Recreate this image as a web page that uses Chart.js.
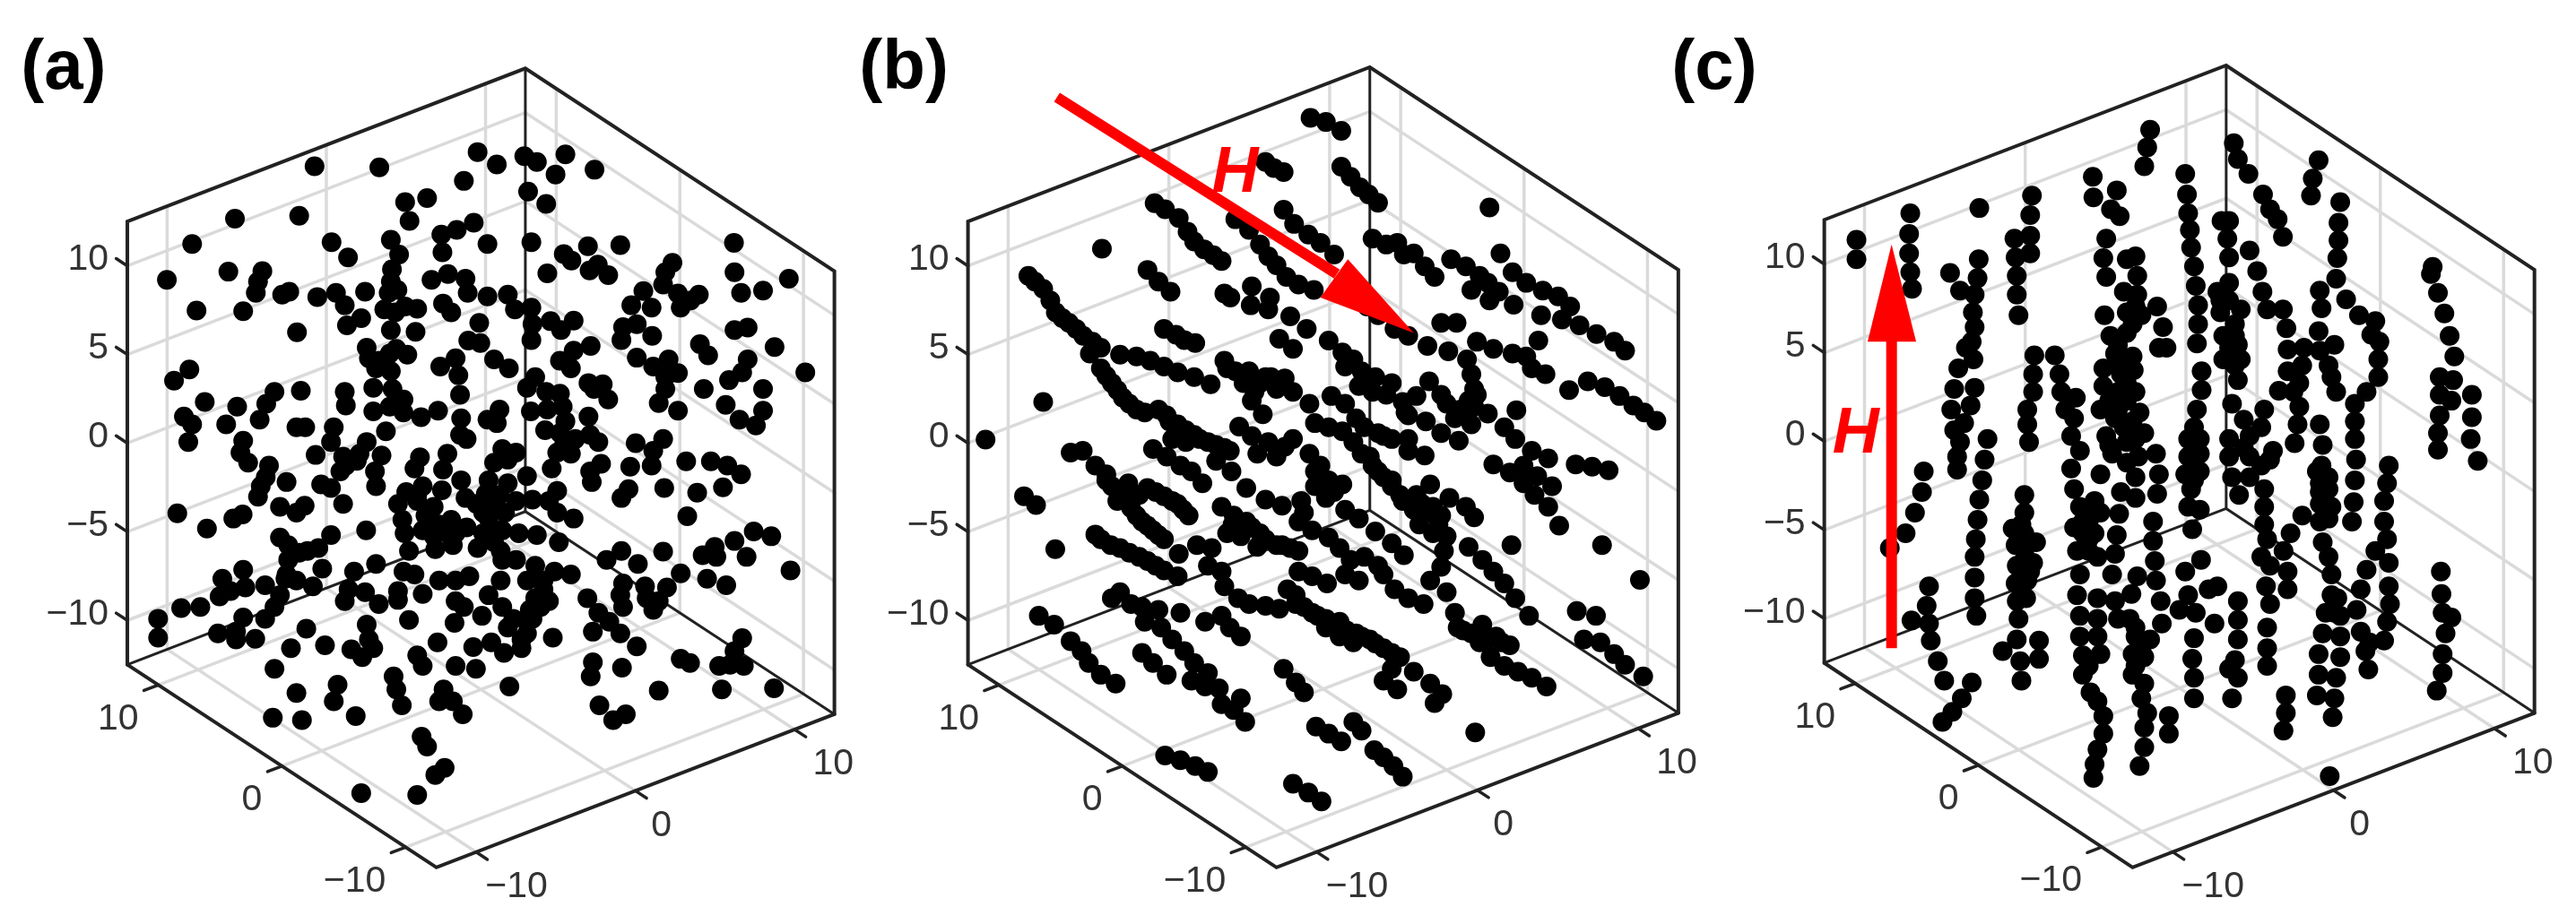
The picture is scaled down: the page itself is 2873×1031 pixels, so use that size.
<!DOCTYPE html>
<html>
<head>
<meta charset="utf-8">
<title>Scatter (a) (b) (c)</title>
<script src="https://cdn.jsdelivr.net/npm/chart.js@4/dist/chart.umd.js"></script>
<style>
  html, body { margin: 0; padding: 0; background: #fff; }
  body { width: 2873px; height: 1031px; position: relative; overflow: hidden; }
  canvas { position: absolute; top: 0; }
</style>
</head>
<body>
<canvas id="chart-a" style="left:0" width="960" height="1031"></canvas>
<canvas id="chart-b" style="left:940px" width="960" height="1031"></canvas>
<canvas id="chart-c" style="left:1850px" width="1023" height="1031"></canvas>
<script>
// axis ticks
const horizTicks = [-10, 0, 10];
const vertTicks = [10, 5, 0, -5, -10];
const axisLimit = 12.5;

// points, in each panel's view coordinates (0-1568)
const pointsA = [[573,282],[691,284],[870,258],[905,279],[955,265],[978,275],[1030,262],[1012,296],[1083,288],[845,307],[962,325],[995,346],[778,336],[738,343],[746,375],[428,371],[545,366],[350,414],[604,411],[634,437],[712,407],[727,432],[714,457],[804,398],[832,390],[863,378],[806,428],[888,414],[968,411],[1027,431],[1041,442],[1071,418],[1130,416],[1337,412],[304,475],[416,461],[478,460],[470,478],[466,497],[1074,459],[1089,449],[1108,467],[997,464],[1338,462],[1437,473],[1225,446],[1212,462],[1208,483],[1172,494],[1235,498],[1350,497],[1390,493],[358,527],[443,528],[514,500],[527,495],[578,504],[612,497],[628,518],[665,495],[712,478],[708,497],[724,492],[738,520],[760,524],[786,475],[816,465],[848,473],[852,497],[807,515],[822,530],[888,503],[925,500],[938,525],[968,522],[1150,518],[1187,522],[1240,522],[1258,510],[1273,500],[700,525],[720,530],[712,560],[658,540],[632,552],[541,564],[757,563],[873,548],[1003,545],[1022,560],[1045,544],[970,550],[968,577],[1135,555],[1160,550],[1132,577],[1188,570],[1338,560],[1362,556],[1411,589],[1275,584],[1290,603],[1076,587],[853,578],[875,582],[668,590],[672,608],[690,612],[710,600],[722,592],[742,602],[1045,595],[1020,612],[1040,625],[1160,607],[1190,622],[1218,610],[1235,633],[1212,640],[1362,610],[1352,632],[1328,645],[1467,632],[345,627],[317,646],[830,608],[802,622],[900,610],[927,625],[685,625],[712,630],[835,637],[975,640],[960,658],[1072,650],[1098,652],[1082,660],[1108,678],[1282,660],[1212,660],[1390,660],[680,658],[715,660],[548,663],[628,665],[630,688],[500,665],[485,685],[473,712],[373,682],[432,690],[838,670],[735,678],[995,665],[1020,668],[1025,690],[1200,684],[1235,697],[1322,687],[680,698],[710,690],[735,700],[798,697],[767,708],[840,710],[910,695],[888,712],[905,718],[967,698],[997,695],[1030,715],[1072,707],[1347,712],[1390,697],[1377,722],[335,707],[350,720],[412,720],[540,725],[556,725],[703,732],[838,738],[993,730],[1020,735],[608,725],[603,750],[343,750],[443,748],[438,768],[850,745],[1048,745],[1075,738],[1090,750],[1025,760],[1158,752],[1208,745],[1190,765],[668,750],[655,770],[695,773],[575,772],[815,770],[915,762],[940,768],[1015,768],[1040,770],[765,776],[625,775],[630,790],[650,782],[900,785],[1250,783],[1295,783],[1325,790],[1350,805],[1095,787],[1075,800],[1148,792],[1187,790],[452,785],[490,790],[484,810],[620,800],[683,800],[755,795],[807,797],[890,815],[925,780],[1005,795],[1078,818],[960,808],[1210,828],[1317,827],[1270,836],[475,825],[470,843],[522,818],[585,822],[603,828],[625,855],[685,825],[740,835],[770,825],[805,832],[840,815],[925,820],[848,845],[885,838],[1015,833],[1145,830],[1132,845],[725,855],[760,850],[868,855],[900,860],[940,850],[970,848],[1000,850],[510,860],[555,858],[540,870],[323,871],[442,873],[425,880],[1045,880],[1252,876],[377,897],[733,882],[775,875],[822,882],[800,890],[850,895],[890,880],[920,870],[1015,870],[667,900],[737,905],[770,900],[815,905],[880,905],[915,900],[945,905],[978,908],[1373,902],[1405,910],[1338,918],[510,912],[603,908],[525,925],[580,930],[745,935],[793,932],[825,925],[870,930],[912,935],[1018,920],[1208,936],[1132,935],[1280,942],[1302,928],[1360,945],[1305,945],[545,938],[560,935],[525,950],[915,950],[940,950],[1105,950],[1162,957],[685,957],[587,965],[975,960],[1440,968],[443,967],[522,975],[645,970],[735,970],[1010,970],[1040,975],[1240,973],[755,975],[405,982],[1288,982],[520,982],[800,985],[830,985],[855,978],[912,985],[725,1003],[960,985],[990,985],[1135,990],[1175,995],[1323,993],[447,997],[483,993],[540,985],[570,995],[635,1000],[665,1005],[770,1008],[990,1000],[1215,997],[400,1012],[420,1003],[510,1010],[628,1020],[690,1025],[725,1018],[830,1020],[890,1010],[975,1015],[1070,1015],[1130,1010],[1178,1015],[1200,1020],[330,1032],[365,1030],[500,1030],[845,1030],[915,1030],[965,1035],[1090,1040],[1135,1030],[1190,1035],[288,1050],[443,1048],[483,1050],[745,1052],[878,1045],[935,1050],[960,1055],[828,1057],[668,1060],[1110,1055],[558,1067],[397,1075],[430,1072],[1080,1072],[1130,1075],[288,1082],[430,1085],[465,1084],[672,1085],[925,1065],[1007,1082],[797,1090],[895,1090],[950,1085],[960,1075],[1352,1083],[1160,1097],[592,1095],[530,1100],[640,1102],[680,1100],[862,1098],[918,1108],[950,1100],[660,1115],[760,1112],[1338,1105],[1240,1118],[1257,1125],[770,1130],[830,1130],[867,1135],[1080,1124],[1133,1133],[1310,1130],[1330,1128],[1355,1130],[500,1135],[1076,1148],[717,1148],[722,1170],[928,1165],[615,1162],[540,1176],[608,1190],[808,1170],[1200,1172],[1315,1170],[1410,1168],[732,1197],[800,1190],[825,1190],[843,1212],[1092,1197],[1140,1212],[1117,1222],[497,1218],[550,1222],[648,1215],[768,1250],[778,1267],[810,1303],[793,1315],[658,1346],[760,1349],[760,840],[790,860],[910,840],[880,870],[900,900],[830,905],[790,910],[900,920],[1000,1020],[985,1030],[970,1050]];

const pointsB = [[852,200],[880,207],[908,222],[770,275],[785,285],[803,292],[908,283],[925,300],[942,318],[958,330],[975,344],[1178,352],[803,356],[822,380],[848,398],[870,412],[895,432],[568,345],[587,355],[612,370],[628,393],[640,410],[658,423],[675,433],[690,443],[715,372],[740,390],[760,415],[775,435],[790,450],[808,470],[830,483],[858,492],[472,422],[965,405],[990,415],[1010,412],[1022,432],[1040,430],[1060,452],[1078,470],[1108,440],[1135,452],[1160,468],[1145,492],[1175,480],[1195,495],[1178,510],[1222,517],[1198,430],[1220,462],[1245,480],[1275,493],[1303,503],[1325,520],[1272,535],[1310,542],[1342,552],[1373,567],[1405,580],[1425,595],[338,468],[365,490],[378,510],[388,530],[412,548],[438,570],[555,458],[575,478],[597,495],[695,498],[706,505],[745,486],[778,505],[743,518],[775,525],[815,537],[845,558],[885,578],[910,598],[930,610],[955,520],[975,535],[1005,558],[1030,570],[1065,587],[1090,548],[1118,548],[1155,580],[1103,596],[1185,592],[1220,600],[1245,605],[1255,625],[1280,635],[1267,578],[585,558],[607,568],[622,577],[642,582],[795,575],[820,592],[470,590],[450,600],[505,602],[535,605],[560,612],[585,622],[610,632],[640,640],[670,652],[695,612],[715,630],[740,630],[770,640],[805,642],[915,622],[945,630],[970,640],[1000,650],[1137,610],[1145,635],[1150,660],[1140,680],[1068,647],[1090,670],[470,625],[490,650],[510,675],[535,695],[575,695],[730,650],[750,665],[790,660],[820,665],[850,685],[940,655],[965,665],[990,670],[1020,682],[1045,672],[1030,705],[1062,715],[1090,735],[1122,748],[1100,685],[1125,695],[1115,710],[1145,720],[1175,702],[1323,662],[1357,647],[1388,657],[1415,672],[1440,688],[1460,700],[1482,714],[1227,696],[1205,725],[1225,745],[1255,765],[1285,778],[365,682],[745,680],[765,703],[890,672],[915,685],[935,710],[860,718],[885,725],[910,732],[950,725],[975,735],[1000,745],[1030,745],[1060,773],[1030,765],[260,746],[595,715],[625,730],[650,745],[680,755],[705,765],[722,724],[745,740],[775,750],[805,758],[820,745],[850,770],[755,770],[790,775],[600,745],[625,750],[565,762],[590,775],[615,790],[635,800],[655,820],[708,800],[680,782],[930,750],[945,770],[965,790],[985,810],[415,768],[437,765],[460,790],[480,805],[490,825],[500,850],[520,820],[555,828],[585,842],[610,855],[630,875],[735,828],[770,848],[800,858],[835,850],[860,800],[885,815],[860,825],[910,822],[880,845],[1000,825],[1015,840],[1045,840],[1070,822],[1105,845],[1135,860],[1150,878],[1185,788],[1215,802],[1240,790],[1265,808],[1292,825],[1240,820],[1260,840],[1285,860],[1305,892],[1335,788],[1365,792],[1395,798],[330,842],[352,857],[525,862],[545,885],[565,900],[585,915],[690,860],[712,875],[735,885],[700,905],[725,910],[760,905],[755,928],[830,885],[855,900],[885,912],[915,865],[940,880],[1040,865],[1065,870],[1085,890],[1050,890],[1100,910],[970,902],[1000,922],[1022,942],[1140,928],[1165,950],[1185,970],[1205,990],[1225,1015],[1250,1045],[1095,935],[1090,962],[1070,985],[1218,925],[1383,925],[387,932],[460,907],[488,925],[522,938],[555,952],[585,968],[610,978],[612,940],[645,925],[672,930],[665,960],[690,970],[800,925],[830,935],[905,930],[925,950],[950,945],[975,960],[915,975],[940,985],[985,975],[1005,1000],[1030,1015],[1058,1025],[830,970],[855,978],[882,990],[1452,984],[695,995],[505,1005],[490,1015],[525,1025],[545,1030],[575,1035],[615,1040],[720,1015],[740,1025],[770,1028],[795,1033],[810,1000],[825,1025],[855,1040],[880,1050],[905,1055],[1100,1005],[1115,1040],[1120,1065],[1145,1075],[1165,1060],[1190,1080],[1215,1095],[1160,1090],[1337,1037],[1372,1045],[357,1045],[385,1060],[550,1055],[580,1065],[660,1055],[690,1045],[705,1065],[725,1080],[880,1065],[905,1080],[935,1075],[930,1090],[960,1085],[985,1100],[1015,1115],[1350,1085],[1380,1090],[1405,1110],[1425,1128],[1458,1148],[415,1088],[435,1105],[448,1125],[470,1145],[497,1160],[600,1085],[622,1105],[640,1125],[665,1142],[545,1108],[565,1125],[590,1145],[635,1155],[660,1165],[685,1168],[1000,1135],[985,1155],[1010,1170],[1180,1115],[1205,1130],[1230,1140],[1255,1150],[1282,1165],[1040,1140],[1070,1160],[1092,1178],[1078,1193],[803,1135],[825,1158],[840,1175],[725,1185],[690,1195],[712,1205],[733,1225],[1152,1243],[930,1225],[945,1240],[862,1233],[885,1245],[908,1258],[968,1273],[985,1285],[1003,1300],[1020,1318],[587,1282],[615,1290],[642,1300],[665,1310],[820,1330],[848,1345],[872,1360],[350,478],[400,540],[425,558],[455,580],[480,638],[500,662],[522,685],[550,700],[590,705],[610,720],[640,738],[665,750],[695,760],[480,815],[510,835],[540,840],[570,835],[600,850],[620,865],[535,875],[555,892],[575,908],[470,915],[505,930],[540,945],[570,960],[710,890],[745,895],[770,915],[790,925],[815,930],[840,1030],[865,1045],[890,1058],[918,1070],[945,1080],[970,1092],[1000,1108],[1130,1070],[1175,1085],[1200,1090],[985,740],[960,775],[975,800],[1000,815],[1020,850],[1055,855],[1075,860],[1090,875],[1075,905],[870,790],[875,830],[895,835],[840,870],[780,640],[760,650],[730,635],[700,625],[825,1010],[1025,700],[1150,690],[1130,700],[1155,670]];

const pointsC = [[840,220],[835,250],[830,282],[983,243],[990,270],[1008,295],[1128,272],[1118,303],[1115,332],[742,300],[743,335],[783,323],[900,295],[903,330],[905,362],[908,390],[910,420],[915,452],[918,485],[922,518],[922,550],[920,583],[1033,330],[1045,355],[1058,372],[1067,402],[1165,343],[1162,378],[1162,408],[1160,438],[1158,473],[430,362],[428,397],[428,430],[430,462],[433,490],[548,353],[638,332],[635,365],[635,400],[635,430],[608,405],[610,437],[612,468],[612,500],[615,535],[773,355],[788,367],[765,405],[760,438],[765,470],[338,407],[338,440],[547,440],[545,472],[498,463],[515,493],[540,500],[537,530],[540,555],[535,580],[525,590],[538,610],[512,625],[505,660],[540,658],[533,688],[500,695],[522,718],[505,730],[515,750],[510,775],[510,797],[962,375],[975,375],[972,405],[975,437],[1010,425],[1023,460],[800,440],[815,435],[818,468],[795,495],[818,500],[800,530],[825,535],[762,535],[852,520],[862,555],[855,590],[868,590],[772,570],[800,565],[975,480],[955,495],[975,510],[995,525],[960,530],[985,550],[965,570],[990,585],[965,610],[995,610],[990,645],[1032,495],[1040,525],[1067,525],[1073,557],[1130,493],[1133,523],[1128,562],[1075,593],[1103,590],[1155,585],[1175,508],[1197,535],[1225,545],[1218,568],[1232,580],[1230,610],[1230,640],[1210,665],[1130,595],[1145,620],[1150,640],[1158,665],[1075,630],[1100,620],[1095,650],[1060,663],[1085,665],[1095,690],[1092,720],[1087,752],[1190,685],[1190,715],[1190,745],[1192,780],[1190,815],[1188,852],[1185,885],[1323,453],[1320,465],[1332,497],[1343,532],[1352,570],[1360,605],[1335,640],[1358,645],[1335,670],[1355,680],[1335,705],[1332,735],[1332,763],[1390,670],[1390,708],[1388,745],[1400,782],[642,603],[677,603],[640,635],[685,635],[640,665],[688,665],[630,695],[695,695],[713,675],[630,720],[710,710],[633,750],[705,740],[720,765],[705,795],[760,625],[785,605],[810,605],[760,655],[790,635],[812,628],[785,665],[815,665],[755,695],[785,695],[822,700],[795,725],[765,740],[800,750],[830,735],[775,770],[820,775],[850,770],[755,805],[800,785],[815,810],[855,805],[790,835],[815,845],[852,838],[928,630],[928,662],[920,695],[915,725],[905,745],[925,745],[905,775],[925,770],[900,805],[925,800],[910,830],[905,860],[925,865],[912,898],[980,685],[1000,712],[975,745],[1010,740],[1035,695],[1030,725],[1050,765],[1010,775],[1030,790],[975,775],[980,810],[1010,810],[992,840],[1035,830],[1035,860],[1035,890],[1040,915],[1130,720],[1135,755],[1133,790],[1130,820],[1145,830],[1130,855],[1100,875],[1150,860],[1130,885],[1135,920],[1145,945],[1080,905],[1068,935],[1030,945],[1045,960],[1075,970],[1075,1000],[562,745],[557,780],[553,815],[548,848],[545,882],[542,915],[540,945],[540,980],[540,1015],[543,1045],[453,800],[450,835],[438,870],[422,905],[395,930],[625,840],[625,870],[605,897],[625,905],[610,925],[645,920],[625,935],[640,955],[612,960],[630,985],[610,990],[628,1015],[612,1020],[615,1050],[710,830],[720,860],[745,850],[755,870],[710,895],[735,885],[735,915],[715,935],[750,945],[780,940],[787,872],[783,908],[845,885],[845,918],[848,952],[850,985],[858,1020],[860,1058],[1248,790],[1245,820],[1240,850],[1240,885],[1245,915],[1225,935],[1248,955],[1248,995],[1250,1025],[1245,1055],[1240,1087],[1210,967],[1200,1000],[1193,1035],[1200,1072],[1208,1105],[1213,1136],[1337,970],[1338,1008],[1340,1040],[1355,1048],[1345,1075],[1340,1110],[1340,1142],[1330,1172],[720,975],[775,975],[818,978],[808,1008],[900,970],[927,950],[940,1000],[905,1010],[955,995],[918,1040],[890,1035],[950,1058],[915,1083],[912,1118],[915,1150],[915,1185],[990,1020],[990,1052],[990,1085],[985,1120],[990,1150],[975,1135],[980,1185],[1038,995],[1045,1025],[1040,1065],[1040,1100],[1040,1130],[1150,975],[1160,1015],[1140,1040],[1165,1045],[1135,1075],[1165,1080],[1128,1110],[1165,1115],[1128,1145],[1158,1150],[1125,1180],[1155,1185],[1152,1217],[1072,1180],[1072,1210],[1068,1240],[462,995],[458,1028],[432,1053],[462,1058],[465,1087],[477,1122],[488,1155],[535,1158],[518,1185],[502,1208],[485,1225],[588,1105],[612,1085],[650,1087],[650,1118],[618,1122],[620,1155],[715,1010],[750,1015],[780,1020],[720,1045],[750,1050],[785,1050],[805,1050],[720,1080],[750,1080],[815,1080],[840,1085],[725,1112],[755,1110],[810,1110],[830,1115],[725,1145],[810,1145],[830,1160],[738,1175],[825,1185],[750,1190],[760,1215],[835,1210],[830,1235],[760,1245],[830,1268],[750,1272],[745,1297],[822,1300],[743,1320],[872,1215],[872,1245],[1147,1317],[785,620],[800,650],[770,680],[800,680],[810,715],[780,710],[770,755],[815,745],[735,870],[725,885],[725,905],[745,905],[735,935],[625,950],[635,970],[620,1000],[615,925],[620,890],[960,510],[985,570],[975,590],[985,620],[815,520],[810,550],[785,585],[780,600],[1130,835],[1145,880],[1125,800],[1145,810],[1045,780],[1000,760],[915,760],[915,790],[915,815],[735,1130],[815,1130],[825,1100],[815,1065],[1150,1010],[1155,1040],[1215,1090]];

// field arrows (shaft, then head)
const arrowShaftB = [[390,165],[900,465]];
const arrowHeadB = [[1040,565],[920,440],[870,505]];
const arrowShaftC = [[398,1100],[398,570]];
const arrowHeadC = [[398,415],[357,580],[440,580]];

// box corners of each panel, in view coordinates
const panels = [
  { id: 'chart-a', title: '(a)', titleAt: [38, 118], points: pointsA, bottom: [795,1472], right: [1520,1212], left: [232,1128], height: 752 },
  { id: 'chart-b', title: '(b)', titleAt: [30, 118], points: pointsB, bottom: [790,1472], right: [1522,1210], left: [228,1128], height: 752,
    shaft: arrowShaftB, head: arrowHeadB, hAt: [672, 326] },
  { id: 'chart-c', title: '(c)', titleAt: [22, 118], points: pointsC, bottom: [810,1472], right: [1497,1210], left: [283,1125], height: 752,
    shaft: arrowShaftC, head: arrowHeadC, hAt: [297, 768] }
];

const gridColor = '#dadada';
const boxColor = '#222222';
const textColor = '#333333';

function lineSet(pts, color, width, order) {
  return {
    data: pts.map(p => ({ x: p[0], y: p[1] })),
    showLine: true, pointRadius: 0, borderColor: color, borderWidth: width,
    borderCapStyle: 'round', order: order
  };
}

function buildPanel(panel) {
  const L = axisLimit;
  // a runs bottom->right, b runs bottom->left, z goes up
  const project = (a, b, z) => {
    const fa = (a + L) / (2 * L), fb = (b + L) / (2 * L), fz = (z + L) / (2 * L);
    return [
      panel.bottom[0] + fa * (panel.right[0] - panel.bottom[0]) + fb * (panel.left[0] - panel.bottom[0]),
      panel.bottom[1] + fa * (panel.right[1] - panel.bottom[1]) + fb * (panel.left[1] - panel.bottom[1]) - fz * panel.height
    ];
  };

  const sets = [];
  sets.push({
    data: panel.points.map(p => ({ x: p[0], y: p[1] })),
    showLine: false, pointRadius: 11, pointBackgroundColor: '#000', pointBorderWidth: 0, order: 2
  });

  // grid on the two back walls and the floor
  horizTicks.forEach(t => {
    sets.push(lineSet([project(t, L, -L), project(t, L, L)], gridColor, 3.5, 6));
    sets.push(lineSet([project(L, t, -L), project(L, t, L)], gridColor, 3.5, 6));
    sets.push(lineSet([project(t, -L, -L), project(t, L, -L)], gridColor, 3.5, 6));
    sets.push(lineSet([project(-L, t, -L), project(L, t, -L)], gridColor, 3.5, 6));
  });
  vertTicks.forEach(t => {
    sets.push(lineSet([project(-L, L, t), project(L, L, t), project(L, -L, t)], gridColor, 3.5, 6));
  });

  // back edges of the box
  sets.push(lineSet([project(-L, L, -L), project(L, L, -L), project(L, -L, -L)], boxColor, 3, 5));
  sets.push(lineSet([project(L, L, -L), project(L, L, L)], boxColor, 3, 5));
  // outer frame
  sets.push(lineSet([project(-L, L, -L), project(-L, L, L), project(L, L, L), project(L, -L, L), project(L, -L, -L)], boxColor, 4, 4));
  sets.push(lineSet([project(-L, L, -L), project(-L, -L, -L), project(L, -L, -L)], boxColor, 4, 4));

  // tick marks
  const tickLen = 0.9;
  vertTicks.forEach(t => sets.push(lineSet([project(-L, L, t), project(-L, L + tickLen, t)], boxColor, 3.5, 4)));
  horizTicks.forEach(t => {
    sets.push(lineSet([project(-L, t, -L), project(-L - tickLen, t, -L)], boxColor, 3.5, 4));
    sets.push(lineSet([project(t, -L, -L), project(t, -L - tickLen, -L)], boxColor, 3.5, 4));
  });

  // red arrow goes over the points
  if (panel.shaft) {
    sets.push(Object.assign(lineSet(panel.shaft, '#ff0000', 12, 1), { borderCapStyle: 'butt' }));
    const closed = panel.head.concat([panel.head[0]]);
    sets.push(Object.assign(lineSet(closed, '#ff0000', 0, 0), { fill: 'shape', backgroundColor: '#ff0000' }));
  }

  const textPlugin = {
    id: 'panelText',
    afterDatasetsDraw(chart) {
      const ctx = chart.ctx;
      const sx = chart.scales.x, sy = chart.scales.y;
      const px = p => [sx.getPixelForValue(p[0]), sy.getPixelForValue(p[1])];
      const fmt = t => String(t).replace('-', '\u2212');
      ctx.save();
      ctx.fillStyle = textColor;
      ctx.textBaseline = 'middle';
      ctx.font = '41px "Liberation Sans", Arial, sans-serif';

      ctx.textAlign = 'right';
      vertTicks.forEach(t => {
        const p = px(project(-L, L, t));
        ctx.fillText(fmt(t), p[0] - 21, p[1] - 7);
      });
      horizTicks.forEach(t => {
        const p = px(project(-L, t, -L));
        ctx.fillText(fmt(t), p[0] - 22, p[1] + 38);
      });
      ctx.textAlign = 'center';
      const aOffsets = [45, 29, 43];
      horizTicks.forEach((t, i) => {
        const p = px(project(t, -L, -L));
        ctx.fillText(fmt(t), p[0] + aOffsets[i], p[1] + 39);
      });

      ctx.fillStyle = '#000';
      ctx.textAlign = 'left';
      ctx.font = 'bold 78px "Liberation Sans", Arial, sans-serif';
      const tp = px(panel.titleAt);
      ctx.fillText(panel.title, tp[0], tp[1]);

      if (panel.hAt) {
        ctx.fillStyle = '#ff0000';
        ctx.textBaseline = 'alphabetic';
        ctx.font = 'italic bold 72px "Liberation Sans", Arial, sans-serif';
        const hp = px(panel.hAt);
        ctx.fillText('H', hp[0], hp[1]);
      }
      ctx.restore();
    }
  };

  new Chart(document.getElementById(panel.id), {
    type: 'scatter',
    data: { datasets: sets },
    options: {
      responsive: false,
      animation: false,
      layout: { padding: 0, autoPadding: false },
      plugins: { legend: { display: false }, tooltip: { enabled: false } },
      scales: {
        x: { type: 'linear', display: false, min: 0, max: 1568 },
        y: { type: 'linear', display: false, min: 0, max: 1568, reverse: true }
      }
    },
    plugins: [textPlugin]
  });
}

panels.forEach(buildPanel);
</script>
</body>
</html>
